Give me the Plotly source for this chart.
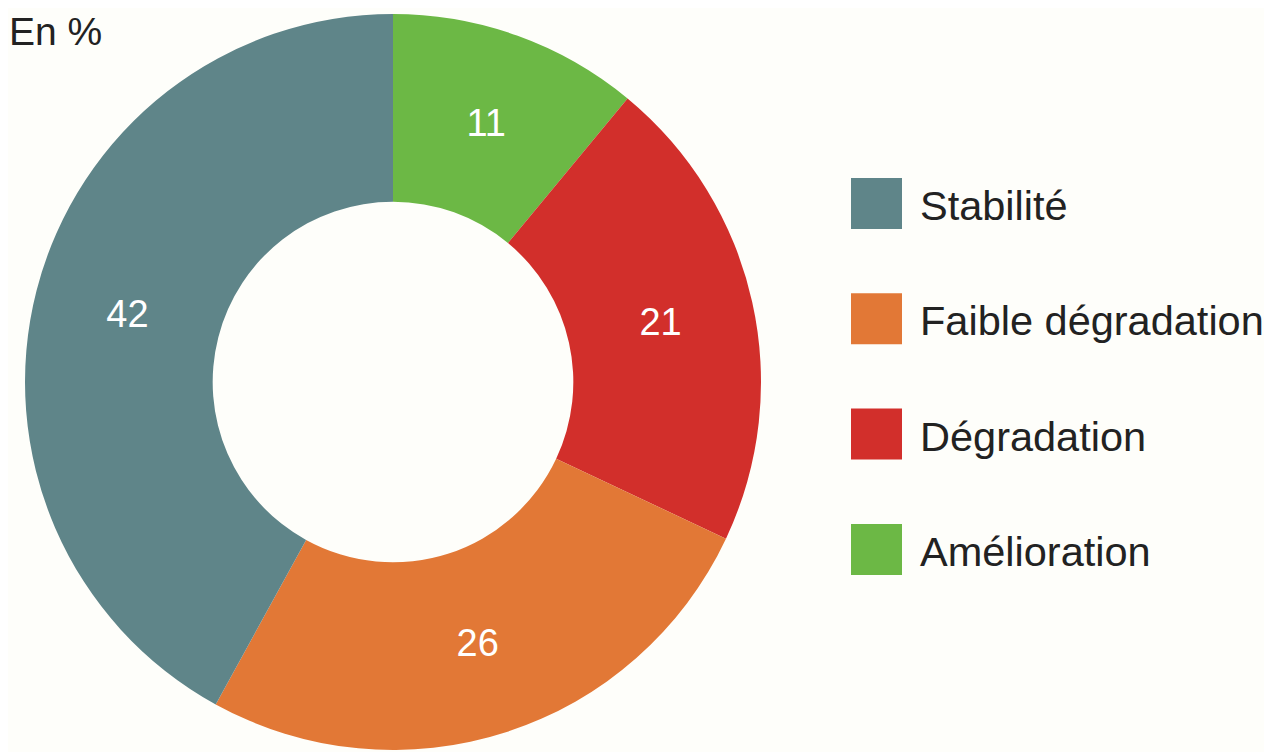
import plotly.graph_objects as go

# Data (legend order)
categories = ["Stabilité", "Faible dégradation", "Dégradation", "Amélioration"]
values = [42, 26, 21, 11]
colors = ["#5f8589", "#e27836", "#d22f2b", "#6cb845"]
title_text = "En %"

OFF = 8  # page body margin
W, H = 1272 - OFF, 752 - OFF
BG = "#fefefa"
FONT = "Liberation Sans, Arial, Helvetica, sans-serif"


def px(x):
    return (x - OFF) / W


def py(y):
    return 1 - (y - OFF) / H


# Pie geometry (page pixels)
cx, cy, r = 393, 382, 368

fig = go.Figure()
fig.add_trace(go.Pie(
    labels=categories[::-1],
    values=values[::-1],
    marker=dict(colors=colors[::-1], line=dict(width=0)),
    hole=0.49,
    sort=False,
    direction="clockwise",
    rotation=0,
    textinfo="value",
    textposition="inside",
    insidetextorientation="horizontal",
    textfont=dict(size=38, color="white", family=FONT),
    showlegend=False,
    hoverinfo="label+value",
    domain=dict(x=[px(cx - r), px(cx + r)],
                y=[py(cy + r), py(cy - r)]),
))

shapes = []
annotations = [dict(
    text=title_text, x=px(7), y=py(8), xref="paper", yref="paper",
    xanchor="left", yanchor="top", showarrow=False,
    font=dict(size=39, color="#222222", family=FONT),
)]

# Custom legend (large swatches)
lx0, lsize, ltop, lstep = 851, 51, 178, 115.3
for i, (lab, col) in enumerate(zip(categories, colors)):
    top = ltop + i * lstep
    shapes.append(dict(
        type="rect", xref="paper", yref="paper",
        x0=px(lx0), x1=px(lx0 + lsize),
        y0=py(top + lsize), y1=py(top),
        fillcolor=col, line=dict(width=0),
    ))
    annotations.append(dict(
        text=lab, x=px(lx0 + lsize + 16), y=py(top + lsize / 2 + 2),
        xref="paper", yref="paper", xanchor="left", yanchor="middle",
        showarrow=False, font=dict(size=41.5, color="#222222", family=FONT),
    ))

fig.update_layout(
    width=W, height=H,
    margin=dict(l=0, r=0, t=0, b=0),
    paper_bgcolor=BG, plot_bgcolor=BG,
    shapes=shapes, annotations=annotations,
)

fig.write_html("out.html")
